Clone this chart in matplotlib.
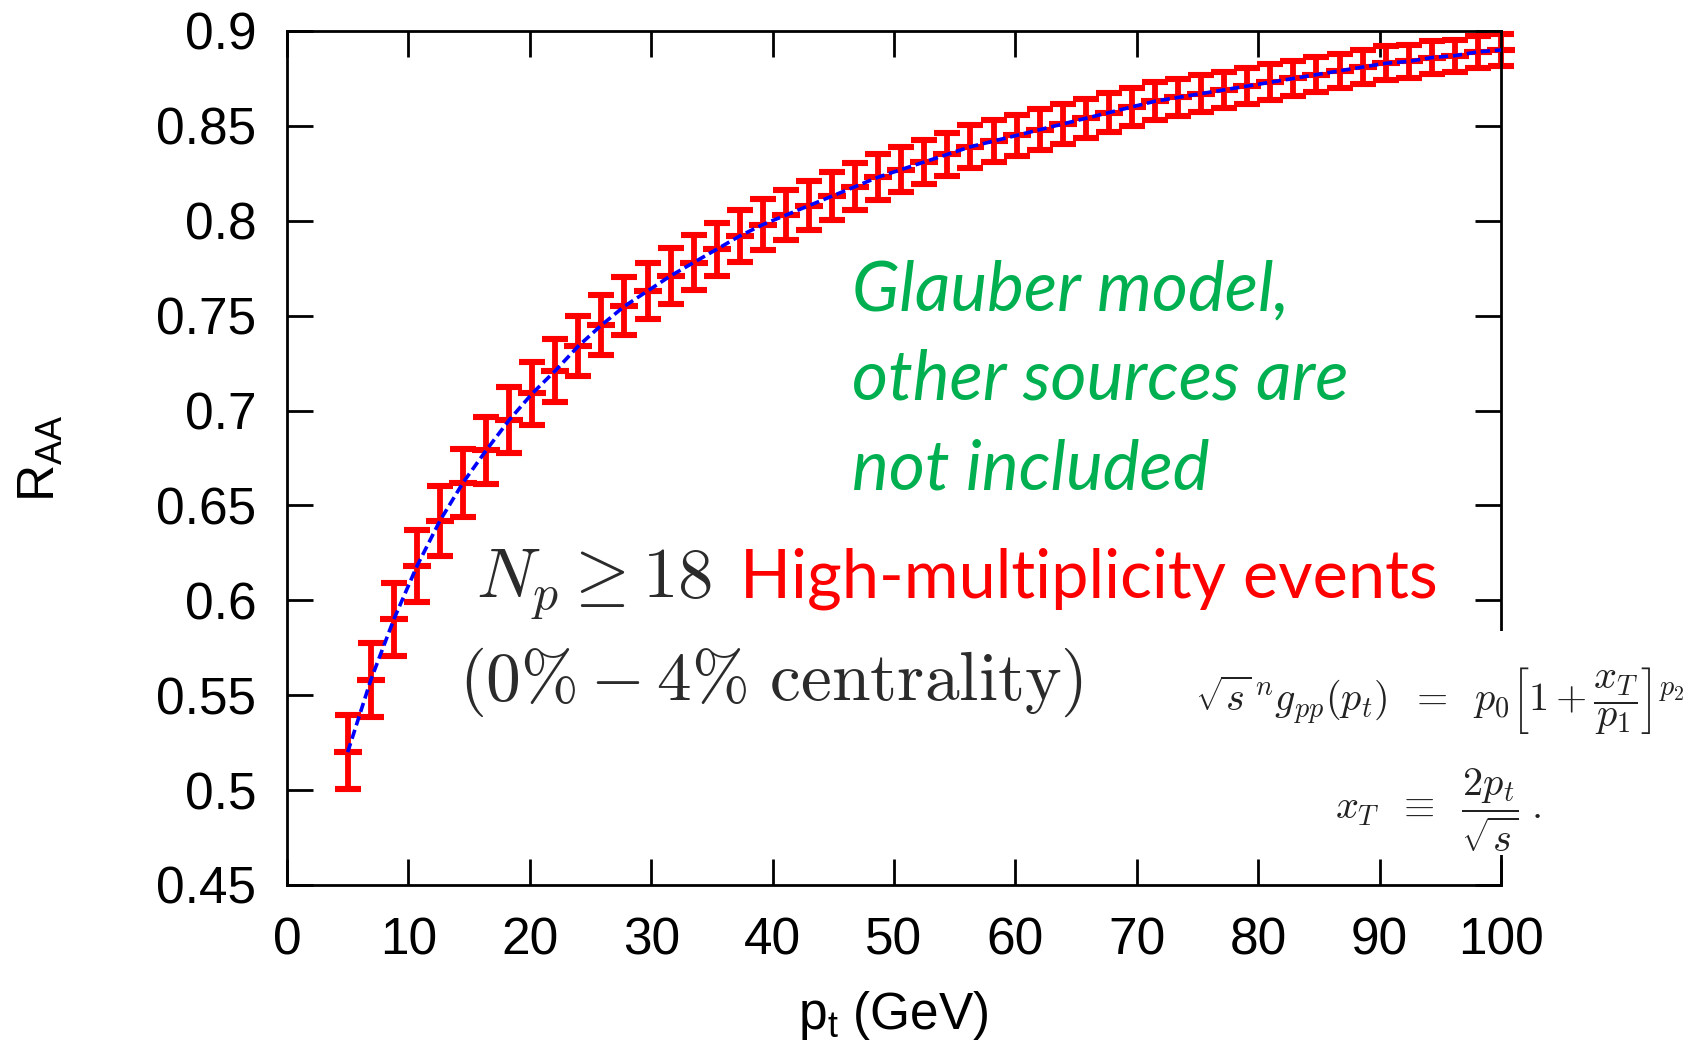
import matplotlib
matplotlib.use("Agg")
import matplotlib.pyplot as plt
from matplotlib.patches import Rectangle

plt.rcParams["font.family"] = "Liberation Sans"
plt.rcParams["mathtext.fontset"] = "custom"
plt.rcParams["mathtext.rm"] = "Liberation Sans"
plt.rcParams["mathtext.it"] = "Liberation Sans:italic"

# ── data ─────────────────────────────────────────────────────────
pt = [5.0, 6.9, 8.8, 10.7, 12.6, 14.5, 16.4, 18.3, 20.2, 22.1,
      24.0, 25.9, 27.8, 29.7, 31.6, 33.5, 35.4, 37.3, 39.2, 41.1,
      43.0, 44.9, 46.8, 48.7, 50.6, 52.5, 54.4, 56.3, 58.2, 60.1,
      62.0, 63.9, 65.8, 67.7, 69.6, 71.5, 73.4, 75.3, 77.2, 79.1,
      81.0, 82.9, 84.8, 86.7, 88.6, 90.5, 92.4, 94.3, 96.2, 98.1, 100.0]
raa = [0.520, 0.558, 0.590, 0.618, 0.642, 0.662, 0.679, 0.695, 0.709, 0.721,
       0.734, 0.745, 0.755, 0.763, 0.771, 0.778, 0.785, 0.792, 0.798, 0.803,
       0.808, 0.813, 0.818, 0.823, 0.827, 0.831, 0.835, 0.839, 0.842, 0.845,
       0.848, 0.851, 0.854, 0.857, 0.860, 0.863, 0.865, 0.867, 0.869, 0.871,
       0.873, 0.875, 0.877, 0.879, 0.881, 0.883, 0.884, 0.886, 0.887, 0.889, 0.890]
err = [0.0195, 0.0193, 0.0192, 0.0190, 0.0185, 0.0180, 0.0176, 0.0174, 0.0168, 0.0165,
       0.0160, 0.0157, 0.0153, 0.0150, 0.0146, 0.0143, 0.0140, 0.0137, 0.0134, 0.0132,
       0.0129, 0.0126, 0.0124, 0.0121, 0.0119, 0.0117, 0.0115, 0.0113, 0.0111, 0.0109,
       0.0107, 0.0106, 0.0104, 0.0103, 0.0101, 0.0100, 0.0099, 0.0097, 0.0096, 0.0095,
       0.0094, 0.0093, 0.0092, 0.0091, 0.0090, 0.0089, 0.0088, 0.0086, 0.0085, 0.0084, 0.0083]

xticks = [0, 10, 20, 30, 40, 50, 60, 70, 80, 90, 100]
yticks = [0.45, 0.5, 0.55, 0.6, 0.65, 0.7, 0.75, 0.8, 0.85, 0.9]
ytick_labels = ["0.45", "0.5", "0.55", "0.6", "0.65", "0.7", "0.75", "0.8", "0.85", "0.9"]

W, H = 1707, 1043


def px(x, y):
    # pixel position (top-left origin) -> figure fraction
    return x / W, 1 - y / H


fig = plt.figure(figsize=(W / 100, H / 100), dpi=100)
ax = fig.add_axes([287 / W, 1 - 885 / H, (1501 - 287) / W, (885 - 31) / H])

ax.errorbar(pt, raa, yerr=err, fmt="_", color="#ff0000", ms=19.5, mew=4.4,
            ecolor="#ff0000", elinewidth=4.2, capsize=9.7, capthick=4.4,
            clip_on=False, zorder=2)
ax.plot(pt, raa, color="#0000ff", lw=2.6, ls=(0, (2.6, 1.3)), zorder=3, clip_on=False)

ax.set_xlim(0, 100)
ax.set_ylim(0.45, 0.9)
ax.set_xticks(xticks)
ax.set_yticks(yticks)
ax.set_yticklabels(ytick_labels)
ax.tick_params(direction="in", length=19, width=2.0, labelsize=37,
               top=True, right=True)
ax.tick_params(axis="y", pad=22)
ax.tick_params(axis="x", pad=23)
for s in ax.spines.values():
    s.set_linewidth(2.0)

fig.text(*px(893, 1029), r"p$_{\rm t}$ (GeV)", fontsize=37, ha="center", va="baseline")
fig.text(*px(55, 458), r"R$_{\rm AA}$", fontsize=37, rotation=90,
         rotation_mode="anchor", ha="center", va="baseline")

# ── annotations ─────────────────────────────────────────────────
green = "#00b050"
for i, line in enumerate(["Glauber model,", "other sources are", "not included"]):
    fig.text(*px(852, 310 + 90 * i), line, fontsize=50, family="Lato",
             style="italic", color=green, ha="left", va="baseline")

fig.text(*px(476, 598), r"$N_p \geq 18$", fontsize=51, math_fontfamily="cm",
         color="#2b2b2b", ha="left", va="baseline")
fig.text(*px(740, 598), "High-multiplicity events", fontsize=48, family="Lato",
         color="#ff0000", ha="left", va="baseline")
fig.text(*px(459, 700), r"$(0\% - 4\%\ \mathrm{centrality})$", fontsize=50,
         math_fontfamily="cm", color="#2b2b2b", ha="left", va="baseline")

# white box behind the formula (covers the right spine)
fig.patches.append(Rectangle(px(1185, 855), (W - 1185) / W, (855 - 631) / H,
                             transform=fig.transFigure, facecolor="white",
                             edgecolor="none", zorder=1))
fig.text(*px(1195, 700),
         r"$\sqrt{s}^{\,n}g_{pp}(p_t)\;\;=\;\;p_0\left[1+\dfrac{x_T}{p_1}\right]^{p_2}$",
         fontsize=29, math_fontfamily="cm", color="#222222", ha="left", va="center")
fig.text(*px(1335, 810), r"$x_T\;\;\equiv\;\;\dfrac{2p_t}{\sqrt{s}}\;.$",
         fontsize=29, math_fontfamily="cm", color="#222222", ha="left", va="center")

fig.savefig("out.png", dpi=100)
